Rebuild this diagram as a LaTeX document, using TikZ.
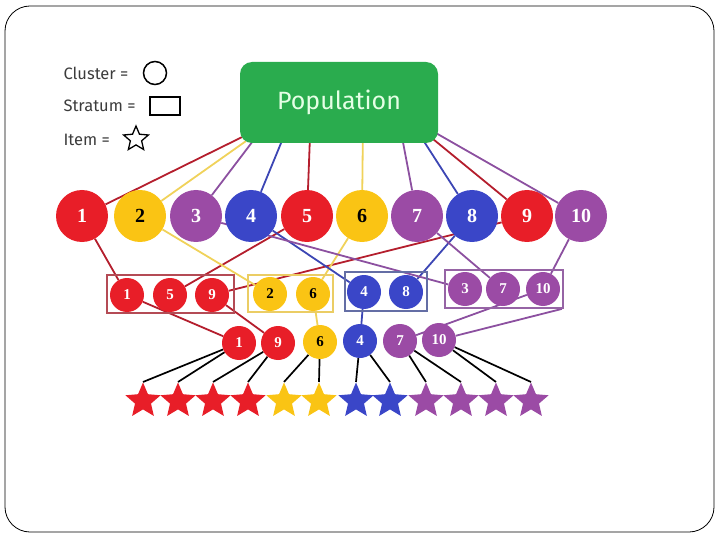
\documentclass[tikz,border=0pt]{standalone}
\usepackage{fontspec}
\setmainfont{Liberation Serif}
\setsansfont{Fira Sans}
\usetikzlibrary{shapes.geometric,backgrounds}
\definecolor{cred}{RGB}{232,30,40}
\definecolor{cyel}{RGB}{250,196,20}
\definecolor{cpur}{RGB}{155,75,165}
\definecolor{cblu}{RGB}{58,70,200}
\definecolor{cgrn}{RGB}{42,172,78}
\definecolor{lred}{RGB}{180,30,45}
\definecolor{lyel}{RGB}{240,210,90}
\definecolor{lpur}{RGB}{140,80,160}
\definecolor{lblu}{RGB}{60,70,180}
\definecolor{bred}{RGB}{180,75,85}
\definecolor{byel}{RGB}{235,205,100}
\definecolor{bblu}{RGB}{100,110,165}
\definecolor{bpur}{RGB}{150,100,165}
\definecolor{legc}{RGB}{60,60,60}
\begin{document}
\begin{tikzpicture}[x=1pt,y=-1pt,
  clu/.style={circle,inner sep=0pt,minimum size=52pt,font=\bfseries\fontsize{20}{20}\selectfont},
  scir/.style={circle,inner sep=0pt,minimum size=34pt,font=\bfseries\fontsize{15}{15}\selectfont},
  sbox/.style={draw,line width=1.8pt,inner sep=0pt},
  itm/.style={star,star points=5,star point ratio=2.2,inner sep=0pt,minimum size=37pt},
  conn/.style={line width=1.8pt},
  blk/.style={line width=1.7pt,black},
  legtext/.style={anchor=west,text=legc,font=\sffamily\fontsize{16.5}{16.5}\selectfont},
  wt/.style={text=white},
  bt/.style={text=black}]
\useasboundingbox (0,0) rectangle (720,540);
\draw[rounded corners=25pt,line width=0.8pt] (5,6) rectangle (714,532);

% legend
\node[legtext] (lc) at (60,73) {Cluster =};
\node[draw,circle,line width=1.5pt,minimum size=23pt,inner sep=0pt] (lcc) at (155,73) {};
\node[legtext] (ls) at (60,106) {Stratum =};
\node[draw,line width=1.5pt,minimum width=30pt,minimum height=18pt,inner sep=0pt] (lsr) at (165,106) {};
\node[legtext] (li) at (60,140) {Item =};
\node[draw,line width=1.3pt,star,star points=5,star point ratio=2.2,minimum size=26pt,inner sep=0pt] (lis) at (136,139) {};

% population
\node[fill=cgrn,rounded corners=12pt,minimum width=198pt,minimum height=81pt,
      text=white!90!green,font=\sffamily\fontsize{25}{25}\selectfont] (pop) at (339,102.5) {Population};

% clusters
\node[clu,fill=cred,wt] (c1) at (82,216) {1};
\node[clu,fill=cyel,bt] (c2) at (140,216) {2};
\node[clu,fill=cpur,wt] (c3) at (196,216) {3};
\node[clu,fill=cblu,wt] (c4) at (251,216) {4};
\node[clu,fill=cred,wt] (c5) at (307,216) {5};
\node[clu,fill=cyel,bt] (c6) at (362,216) {6};
\node[clu,fill=cpur,wt] (c7) at (417,216) {7};
\node[clu,fill=cblu,wt] (c8) at (472,216) {8};
\node[clu,fill=cred,wt] (c9) at (527,216) {9};
\node[clu,fill=cpur,wt] (c10) at (581,216) {10};

% strata boxes
\node[sbox,draw=bred,minimum width=127pt,minimum height=38pt] (rb) at (170.5,294) {};
\node[sbox,draw=byel,minimum width=85pt,minimum height=37pt] (yb) at (290.5,293.5) {};
\node[sbox,draw=bblu,minimum width=82pt,minimum height=39pt] (bb) at (386,291.5) {};
\node[sbox,draw=bpur,minimum width=118pt,minimum height=38pt] (pb) at (504,289) {};

% strata circles
\node[scir,fill=cred,wt] (s1) at (127,295) {1};
\node[scir,fill=cred,wt] (s5) at (170,295) {5};
\node[scir,fill=cred,wt] (s9) at (212,295) {9};
\node[scir,fill=cyel,bt] (s2) at (270,294) {2};
\node[scir,fill=cyel,bt] (s6) at (313,294) {6};
\node[scir,fill=cblu,wt] (s4) at (364,292) {4};
\node[scir,fill=cblu,wt] (s8) at (406,292) {8};
\node[scir,fill=cpur,wt] (s3) at (465,289) {3};
\node[scir,fill=cpur,wt] (s7) at (503,289) {7};
\node[scir,fill=cpur,wt] (s10) at (543,289) {10};

% selected clusters
\node[scir,fill=cred,wt] (k1) at (239,343) {1};
\node[scir,fill=cred,wt] (k9) at (278,343) {9};
\node[scir,fill=cyel,bt] (k6) at (320,342) {6};
\node[scir,fill=cblu,wt] (k4) at (360,341) {4};
\node[scir,fill=cpur,wt] (k7) at (400,341) {7};
\node[scir,fill=cpur,wt] (k10) at (439,340) {10};

% items
\node[itm,fill=cred] (t1) at (143,401) {};
\node[itm,fill=cred] (t2) at (178,401) {};
\node[itm,fill=cred] (t3) at (213,401) {};
\node[itm,fill=cred] (t4) at (248,401) {};
\node[itm,fill=cyel] (t5) at (284,401) {};
\node[itm,fill=cyel] (t6) at (319,401) {};
\node[itm,fill=cblu] (t7) at (356,401) {};
\node[itm,fill=cblu] (t8) at (390,401) {};
\node[itm,fill=cpur] (t9) at (426,401) {};
\node[itm,fill=cpur] (t10) at (461,401) {};
\node[itm,fill=cpur] (t11) at (496,401) {};
\node[itm,fill=cpur] (t12) at (531,401) {};

\begin{pgfonlayer}{background}
% population to clusters
\draw[conn,lred] ([xshift=2pt,yshift=6pt]pop.south west) -- (c1);
\draw[conn,lyel] ([xshift=6pt,yshift=2pt]pop.south west) -- (c2);
\draw[conn,lpur] ([xshift=13pt,yshift=2pt]pop.south west) -- (c3);
\draw[conn,lblu] ([xshift=42pt,yshift=2pt]pop.south west) -- (c4);
\draw[conn,lred] ([xshift=70pt,yshift=2pt]pop.south west) -- (c5);
\draw[conn,lyel] ([xshift=123pt,yshift=2pt]pop.south west) -- (c6);
\draw[conn,lpur] ([xshift=163pt,yshift=2pt]pop.south west) -- (c7);
\draw[conn,lblu] ([xshift=184pt,yshift=2pt]pop.south west) -- (c8);
\draw[conn,lred] ([xshift=-5pt,yshift=4pt]pop.south east) -- (c9);
\draw[conn,lpur] ([xshift=-2pt,yshift=10pt]pop.south east) -- (c10);
% clusters to strata
\draw[conn,lred] (c1) -- (s1);
\draw[conn,lred] (c5) -- (s5);
\draw[conn,lred] (c9) -- (s9);
\draw[conn,lyel] (c2) -- (s2);
\draw[conn,lyel] (c6) -- (s6);
\draw[conn,lblu] (c4) -- (s4);
\draw[conn,lblu] (c8) -- (s8);
\draw[conn,lpur] (c3) -- (s3);
\draw[conn,lpur] (c7) -- (s7);
\draw[conn,lpur] (c10) -- (s10);
% strata to selected
\draw[conn,lred] (s1) -- (k1);
\draw[conn,lred] (s9) -- (k9);
\draw[conn,lyel] (s6) -- (k6);
\draw[conn,lblu] (s4) -- (k4);
\draw[conn,lpur] (s10) -- (k7);
\draw[conn,lpur] ([xshift=-2pt]pb.south east) -- (k10);
% selected to items
\draw[blk] (k1) -- (t1.north);
\draw[blk] (k1) -- (t2.north);
\draw[blk] (k9) -- (t3.north);
\draw[blk] (k9) -- (t4.north);
\draw[blk] (k6) -- (t5.north);
\draw[blk] (k6) -- (t6.north);
\draw[blk] (k4) -- (t7.north);
\draw[blk] (k4) -- (t8.north);
\draw[blk] (k7) -- (t9.north);
\draw[blk] (k7) -- (t10.north);
\draw[blk] (k10) -- (t11.north);
\draw[blk] (k10) -- (t12.north);
\end{pgfonlayer}
\end{tikzpicture}
\end{document}
